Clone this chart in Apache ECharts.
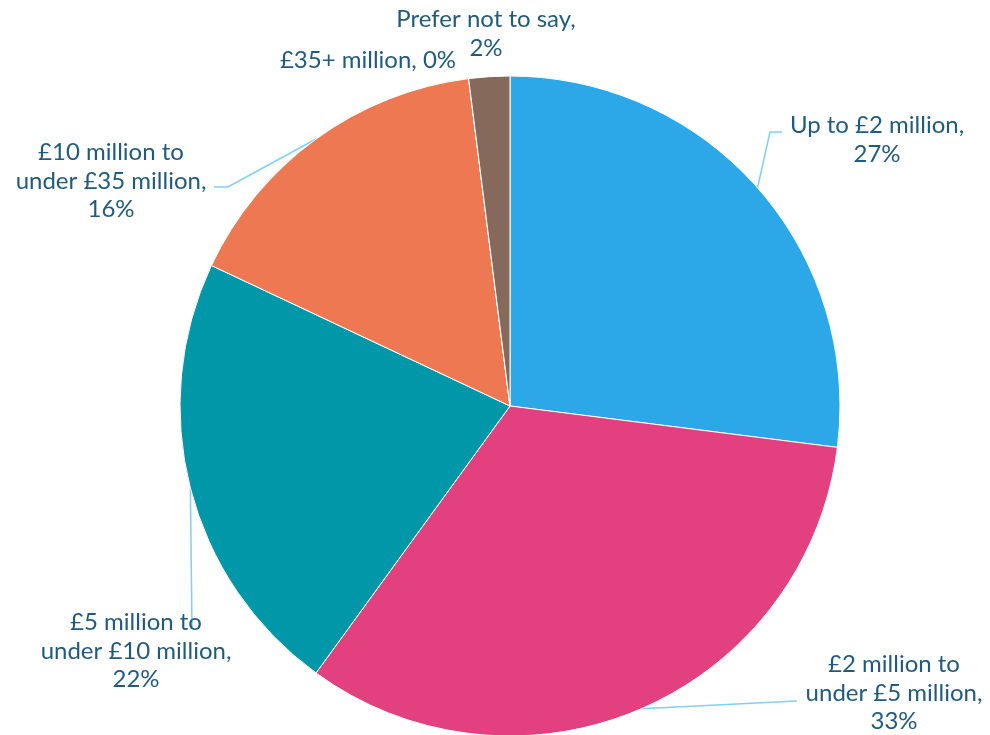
<!DOCTYPE html>
<html>
<head>
<meta charset="utf-8">
<script src="https://cdn.jsdelivr.net/npm/echarts@6/dist/echarts.min.js"></script>
<style>
  html, body { margin: 0; padding: 0; background: #ffffff; }
  #chart { width: 990px; height: 735px; }
</style>
</head>
<body>
<div id="chart"></div>
<script>
// Turnover bands and share of respondents (%)
const categories = [
  'Up to £2 million',
  '£2 million to\nunder £5 million',
  '£5 million to\nunder £10 million',
  '£10 million to\nunder £35 million',
  '£35+ million',
  'Prefer not to say'
];
const shares = [27, 33, 22, 16, 0, 2];
const sliceColors = ['#2ca8e9', '#e34080', '#0097a8', '#ee7852', '#85695b', '#85695b'];

// Label anchor (centre of text block) and leader-line elbow/end per slice
const labelPlacement = [
  { x: 877, y: 140, line: [[770, 132], [782, 132]] },
  { x: 894, y: 693, line: [[797, 701], [797, 701]] },
  { x: 136, y: 651, line: [[192, 628], [192, 628]] },
  { x: 111, y: 181, line: [[228, 187], [214, 187]] },
  { x: 368, y: 60, line: null },
  { x: 486, y: 34, line: null }
];

const chart = echarts.init(document.getElementById('chart'), null, { renderer: 'canvas' });

chart.setOption({
  backgroundColor: '#ffffff',
  animation: false,
  series: [{
    type: 'pie',
    center: [510, 406],
    radius: 330,
    startAngle: 90,
    clockwise: true,
    minShowLabelAngle: 0,
    avoidLabelOverlap: false,
    itemStyle: { borderColor: '#ffffff', borderWidth: 1 },
    label: {
      show: true,
      fontFamily: 'Lato',
      fontSize: 24,
      lineHeight: 28.5,
      color: '#1f5b7e',
      align: 'center',
      // zero-share bands sit on one line, the rest put the value underneath
      formatter: p => p.value === 0
        ? p.name + ', ' + p.value + '%'
        : p.name + ',\n' + p.value + '%'
    },
    labelLine: {
      show: true,
      smooth: false,
      lineStyle: { color: '#7fd0f7', width: 1.5 }
    },
    labelLayout: params => {
      const pl = labelPlacement[params.dataIndex];
      const out = { x: pl.x, y: pl.y, align: 'center', verticalAlign: 'middle' };
      if (pl.line && params.labelLinePoints) {
        out.labelLinePoints = [params.labelLinePoints[0], pl.line[0], pl.line[1]];
      }
      return out;
    },
    data: categories.map((name, i) => ({
      name: name,
      value: shares[i],
      itemStyle: { color: sliceColors[i] },
      labelLine: { show: labelPlacement[i].line !== null }
    }))
  }]
});
</script>
</body>
</html>
